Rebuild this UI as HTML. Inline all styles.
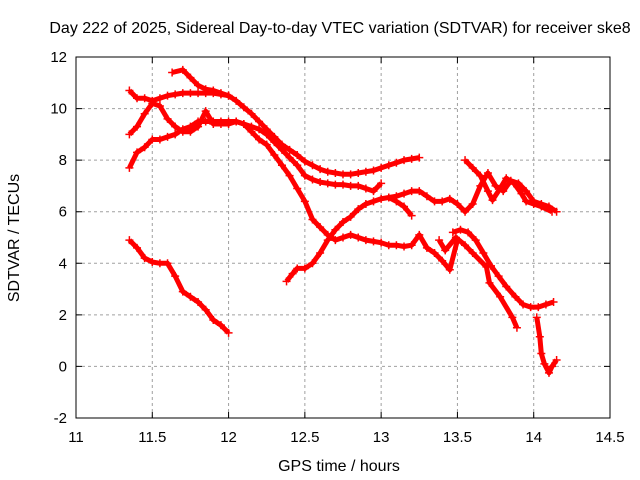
<!DOCTYPE html>
<html><head><meta charset="utf-8"><style>
html,body{margin:0;padding:0;background:#fff;}
svg{display:block;font-family:"Liberation Sans",sans-serif;}
</style></head><body>
<svg id="chart" width="640" height="480" viewBox="0 0 640 480" xmlns="http://www.w3.org/2000/svg">
<text x="340" y="33" font-size="16" text-anchor="middle" fill="#000">Day 222 of 2025, Sidereal Day-to-day VTEC variation (SDTVAR) for receiver ske8</text>
<text x="339" y="471" font-size="16" text-anchor="middle" fill="#000">GPS time / hours</text>
<text x="0" y="0" font-size="16" text-anchor="middle" fill="#000" transform="translate(19,238) rotate(-90)">SDTVAR / TECUs</text>
<g id="grid"></g>
<g id="axes"></g>
<g id="series"></g>
<rect x="76" y="57" width="534" height="361" fill="none" stroke="#000" stroke-width="1"/>
</svg>
<script>
const xTicks = [11, 11.5, 12, 12.5, 13, 13.5, 14, 14.5];
const xTickLabels = ["11", "11.5", "12", "12.5", "13", "13.5", "14", "14.5"];
const yTicks = [-2, 0, 2, 4, 6, 8, 10, 12];
const yTickLabels = ["-2", "0", "2", "4", "6", "8", "10", "12"];

const trackAx = [11.63,11.7,11.75,11.8,11.85,11.9,11.95,12.0,12.05,12.1,12.15,12.2,12.25,12.3,12.35,12.4,12.45,12.5,12.55,12.6,12.65,12.7,12.75,12.8,12.85,12.9,12.95,13.0,13.05,13.1,13.15,13.2,13.25];
const trackAy = [11.4,11.5,11.2,10.9,10.75,10.7,10.6,10.5,10.3,10.05,9.8,9.5,9.2,8.9,8.6,8.4,8.2,7.95,7.8,7.65,7.55,7.5,7.45,7.45,7.5,7.55,7.6,7.7,7.8,7.9,8.0,8.05,8.1];
const trackBx = [11.35,11.4,11.45,11.5,11.55,11.6,11.65,11.7,11.75,11.8,11.85,11.9,11.95,12.0];
const trackBy = [10.7,10.4,10.4,10.3,10.4,10.5,10.55,10.6,10.6,10.6,10.6,10.6,10.55,10.5];
const trackCx = [11.35,11.4,11.45,11.5,11.55,11.6,11.65,11.7,11.75,11.8,11.85,11.9,11.95,12.0,12.05,12.1,12.15,12.2,12.25,12.3,12.35,12.4,12.45,12.5,12.55,12.6,12.65,12.7,12.75,12.8,12.85,12.9,12.95,13.0,13.05,13.1,13.15,13.2,13.25,13.3,13.35,13.4,13.45,13.5];
const trackCy = [9.0,9.3,9.8,10.2,10.1,9.6,9.3,9.1,9.1,9.3,9.9,9.4,9.4,9.4,9.5,9.4,9.1,8.8,8.6,8.2,7.8,7.4,6.9,6.4,5.7,5.4,5.1,4.9,5.0,5.1,5.0,4.9,4.85,4.8,4.7,4.7,4.65,4.7,5.1,4.6,4.4,4.1,3.75,4.9];
const trackDx = [11.35,11.4,11.45,11.5,11.55,11.6,11.65,11.7,11.75,11.8,11.85,11.9,11.95,12.0,12.05,12.1,12.15,12.2,12.25,12.3,12.35,12.4,12.45,12.5,12.55,12.6,12.65,12.7,12.75,12.8,12.85,12.9,12.95,13.0];
const trackDy = [7.7,8.3,8.5,8.8,8.8,8.9,9.0,9.2,9.3,9.5,9.5,9.5,9.5,9.5,9.5,9.4,9.3,9.2,9.0,8.7,8.4,8.1,7.8,7.4,7.25,7.15,7.1,7.05,7.05,7.0,7.0,6.9,6.8,7.1];
const trackEx = [11.35,11.4,11.45,11.5,11.55,11.6,11.65,11.7,11.75,11.8,11.85,11.9,11.95,12.0];
const trackEy = [4.9,4.6,4.2,4.05,4.0,4.0,3.5,2.9,2.7,2.5,2.2,1.8,1.6,1.3];
const trackFx = [12.38,12.42,12.45,12.5,12.55,12.6,12.65,12.7,12.75,12.8,12.85,12.9,12.95,13.0,13.05,13.1,13.15,13.2,13.25,13.3,13.35,13.4,13.45,13.5,13.55,13.6,13.65,13.7,13.75,13.8,13.85,13.9,13.95,14.0,14.05,14.1,14.15];
const trackFy = [3.3,3.6,3.8,3.8,4.0,4.4,4.9,5.3,5.6,5.8,6.1,6.3,6.4,6.5,6.55,6.6,6.7,6.8,6.8,6.6,6.4,6.4,6.5,6.3,6.0,6.3,7.0,7.5,7.0,6.8,7.2,7.1,6.8,6.4,6.3,6.2,6.0];
const trackF2x = [13.05,13.1,13.15,13.2];
const trackF2y = [6.55,6.4,6.2,5.85];
const trackGx = [13.55,13.6,13.65,13.7,13.73,13.78,13.82,13.87,13.92,13.95,14.0,14.05,14.12];
const trackGy = [8.0,7.7,7.4,6.8,6.45,6.9,7.3,7.1,6.7,6.4,6.3,6.2,6.0];
const trackH1x = [13.47,13.52,13.57,13.62,13.67,13.72,13.77,13.82,13.88,13.93,13.98,14.03,14.08,14.13];
const trackH1y = [5.2,5.3,5.2,4.9,4.4,3.9,3.5,3.1,2.7,2.4,2.3,2.3,2.4,2.5];
const trackH2x = [13.38,13.42,13.49,13.55,13.6,13.69,13.71,13.78,13.86,13.89];
const trackH2y = [4.9,4.5,5.0,4.7,4.4,3.86,3.24,2.7,1.9,1.5];
const trackH3x = [14.02,14.04,14.05,14.07,14.1,14.12,14.15];
const trackH3y = [1.9,1.15,0.5,0.1,-0.25,0.0,0.25];

const X0=76, X1=610, Y0=418, Y1=57;
function sx(v){return X0+(v-11)/(14.5-11)*(X1-X0);}
function sy(v){return Y0-(v+2)/(12+2)*(Y0-Y1);}
const NS="http://www.w3.org/2000/svg";
function mk(tag,attrs,parent){const e=document.createElementNS(NS,tag);for(const k in attrs)e.setAttribute(k,attrs[k]);parent.appendChild(e);return e;}
const grid=document.getElementById('grid'), axes=document.getElementById('axes'), ser=document.getElementById('series');

xTicks.forEach((t,i)=>{
  const x=sx(t);
  if(i>0&&i<xTicks.length-1){
    const g=mk('line',{x1:x,y1:Y0,x2:x,y2:Y1,stroke:'#a0a0a0','stroke-dasharray':'3,3'},grid);
    
    
  }
  const tk=mk('path',{d:`M${x},${Y0}v-6M${x},${Y1}v6`,stroke:'#000'},axes);
  
  
  const lb=mk('text',{x:x,y:Y0+24,'font-size':15,'text-anchor':'middle'},axes);
  lb.textContent=xTickLabels[i];
  
  
});
yTicks.forEach((t,i)=>{
  const y=sy(t);
  if(i>0&&i<yTicks.length-1){
    const g=mk('line',{x1:X0,y1:y,x2:X1,y2:y,stroke:'#a0a0a0','stroke-dasharray':'3,3'},grid);
    
    
  }
  const tk=mk('path',{d:`M${X0},${y}h6M${X1},${y}h-6`,stroke:'#000'},axes);
  
  
  const lb=mk('text',{x:X0-9,y:y+5,'font-size':15,'text-anchor':'end'},axes);
  lb.textContent=yTickLabels[i];
  
  
});

const tracks=[[trackAx,trackAy,'a'],[trackBx,trackBy,'b'],[trackCx,trackCy,'c'],[trackDx,trackDy,'d'],[trackEx,trackEy,'e'],[trackFx,trackFy,'f'],[trackF2x,trackF2y,'f2'],[trackGx,trackGy,'g'],[trackH1x,trackH1y,'h1'],[trackH2x,trackH2y,'h2'],[trackH3x,trackH3y,'h3']];
tracks.forEach(([xs,ys,id])=>{
  const g=mk('g',{},ser);
  
  
  const pts=xs.map((x,i)=>sx(x).toFixed(1)+','+sy(ys[i]).toFixed(1)).join(' ');
  const pl=mk('polyline',{points:pts,fill:'none',stroke:'#ff0000','stroke-width':5,'stroke-linejoin':'round'},g);
  
  
  xs.forEach((x,i)=>{
    const px=sx(x), py=sy(ys[i]);
    const m=mk('path',{d:`M${px-4},${py}h8M${px},${py-4}v8`,stroke:'#ff0000','stroke-width':1.5},g);
    
    
  });
});
</script>
</body></html>
